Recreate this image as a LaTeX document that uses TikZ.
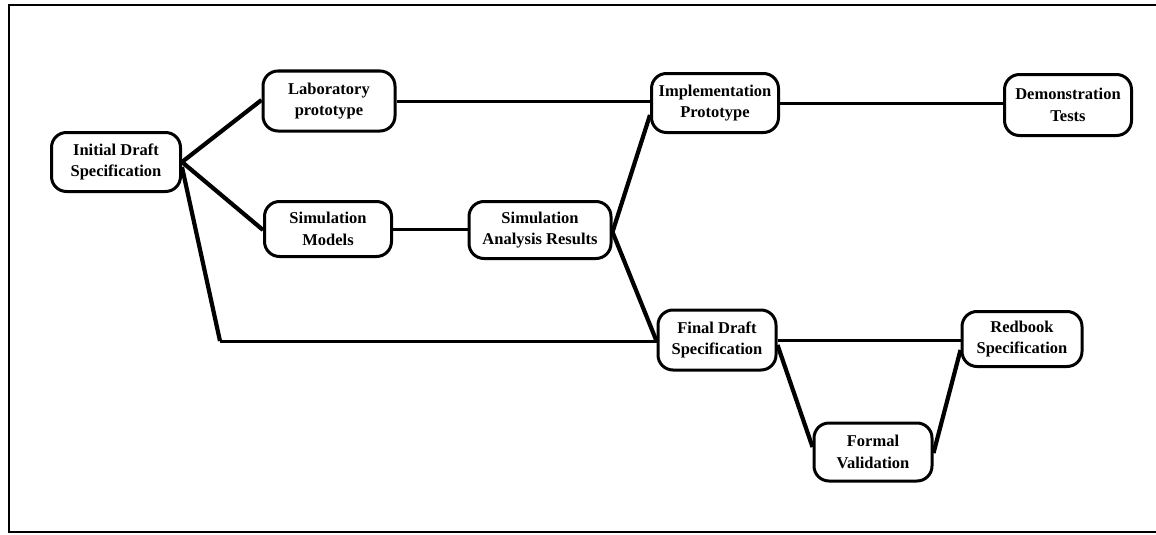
\documentclass[tikz,border=0pt]{standalone}
\usepackage{fontspec}
\setmainfont{Liberation Serif}
\begin{document}
\begin{tikzpicture}[x=1pt,y=-1pt,
  box/.style={draw=black, line width=3pt, rounded corners=15pt, align=center,
    inner sep=0pt, font=\fontsize{16.5}{21.5}\selectfont\bfseries},
  thick link/.style={draw=black, line width=4.2pt},
  thin link/.style={draw=black, line width=3pt},
  frame/.style={draw=black, line width=2pt}]
\useasboundingbox (0,0) rectangle (1156,535);
% frame
\coordinate (ftr) at (1156,5);
\coordinate (ftl) at (9,5);
\coordinate (fbl) at (9,532);
\coordinate (fbr) at (1156,532);
\draw[frame] (ftr) -- (ftl) -- (fbl) -- (fbr);
% nodes
\node[box, minimum width=129pt, minimum height=59pt] (init) at (116,162) {Initial Draft\\Specification};
\node[box, minimum width=132pt, minimum height=60pt] (lab) at (329,101) {Laboratory\\prototype};
\node[box, minimum width=127pt, minimum height=55pt] (simm) at (328,229) {Simulation\\Models};
\node[box, minimum width=127pt, minimum height=59pt] (impl) at (715,103) {Implementation\\Prototype};
\node[box, minimum width=142pt, minimum height=57pt] (sar) at (540,230) {Simulation\\Analysis Results};
\node[box, minimum width=127pt, minimum height=61pt] (demo) at (1068,105) {Demonstration\\Tests};
\node[box, minimum width=118pt, minimum height=60pt] (fds) at (717,340) {Final Draft\\Specification};
\node[box, minimum width=120pt, minimum height=55pt] (red) at (1022,339) {Redbook\\Specification};
\node[box, minimum width=118pt, minimum height=58pt] (fv) at (873,452) {Formal\\Validation};
% connectors
\coordinate (bend) at (220,341);
\draw[thick link] (init.east) -- ([yshift=1pt]lab.west);
\draw[thick link] (init.east) -- ([yshift=-1pt]simm.west);
\draw[thick link, line join=miter] ([yshift=-5pt]init.east) -- (bend);
\draw[thin link] (bend) -- ([yshift=-1pt]fds.west);
\draw[thin link] (lab.east) -- ([yshift=2pt]impl.west);
\draw[thin link] (impl.east) -- ([yshift=2pt]demo.west);
\draw[thin link] (simm.east) -- ([yshift=1pt]sar.west);
\draw[thick link] ([yshift=-2pt]sar.east) -- ([yshift=-12pt]impl.west);
\draw[thick link] ([yshift=-2pt]sar.east) -- ([yshift=-1pt]fds.west);
\draw[thin link] (fds.east) -- ([yshift=-1pt]red.west);
\draw[thick link] ([yshift=-5pt]fds.east) -- ([yshift=5pt]fv.west);
\draw[thick link] ([yshift=-1pt]fv.east) -- ([yshift=-11pt]red.west);
\end{tikzpicture}
\end{document}
